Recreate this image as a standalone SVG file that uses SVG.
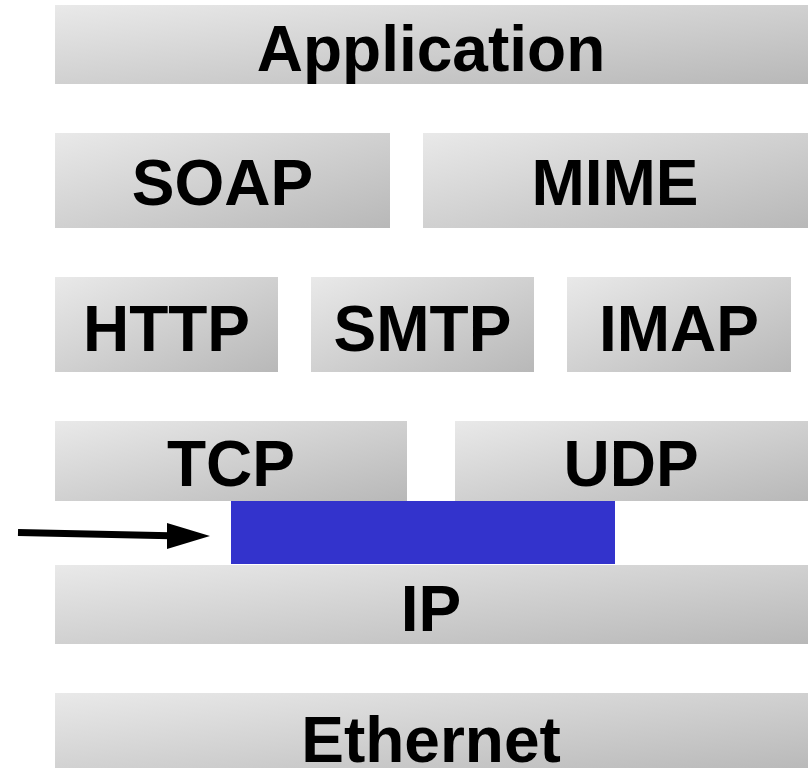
<svg xmlns="http://www.w3.org/2000/svg" width="808" height="768" viewBox="0 0 808 768">
<defs>
<linearGradient id="g" x1="0" y1="0" x2="1" y2="1">
<stop offset="0" stop-color="#e9e9e9"/>
<stop offset="1" stop-color="#b8b8b8"/>
</linearGradient>
</defs>
<style>
.box{fill:url(#g);}
.lbl{font-family:"Liberation Sans",Arial,sans-serif;font-weight:bold;font-size:64px;fill:#000;text-anchor:middle;}
</style>
<rect width="808" height="768" fill="#fff"/>
<g id="application"><rect class="box" x="55" y="5" width="753" height="79"/><text class="lbl" x="431" y="71">Application</text></g>
<g id="soap"><rect class="box" x="55" y="133" width="335" height="95"/><text class="lbl" x="222.5" y="205">SOAP</text></g>
<g id="mime"><rect class="box" x="423" y="133" width="385" height="95"/><text class="lbl" x="615" y="205">MIME</text></g>
<g id="http"><rect class="box" x="55" y="277" width="223" height="95"/><text class="lbl" x="166.5" y="351">HTTP</text></g>
<g id="smtp"><rect class="box" x="311" y="277" width="223" height="95"/><text class="lbl" x="422.5" y="351">SMTP</text></g>
<g id="imap"><rect class="box" x="567" y="277" width="224" height="95"/><text class="lbl" x="679" y="351">IMAP</text></g>
<g id="tcp"><rect class="box" x="55" y="421" width="352" height="80"/><text class="lbl" x="231" y="486">TCP</text></g>
<g id="udp"><rect class="box" x="455" y="421" width="353" height="80"/><text class="lbl" x="631" y="486">UDP</text></g>
<g id="blue"><rect x="231" y="501" width="384" height="63" fill="#3333cc"/></g>
<g id="ip"><rect class="box" x="55" y="565" width="753" height="79"/><text class="lbl" x="431" y="631">IP</text></g>
<g id="ethernet"><rect class="box" x="55" y="693" width="753" height="80"/><text class="lbl" x="431" y="762">Ethernet</text></g>
<g id="connectors">
<line x1="18" y1="532.5" x2="170" y2="535.8" stroke="#000" stroke-width="7"/>
<polygon points="167,523 210,536 167,549" fill="#000"/>
</g>
</svg>
